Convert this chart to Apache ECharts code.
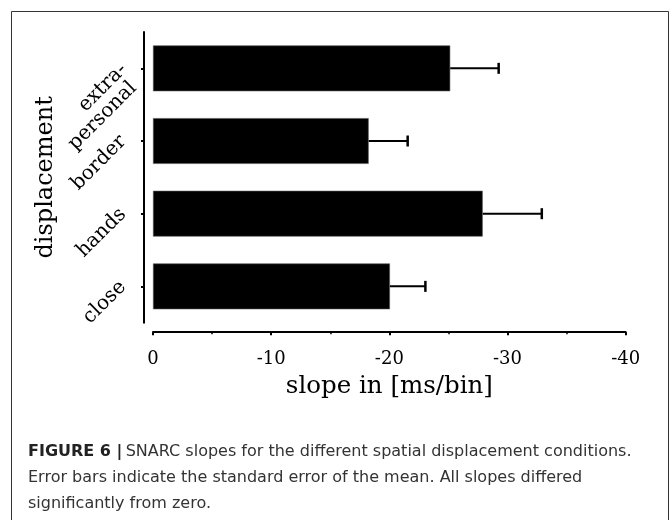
<!DOCTYPE html>
<html>
<head>
<meta charset="utf-8">
<script src="https://cdn.jsdelivr.net/npm/echarts@6/dist/echarts.min.js"></script>
<style>html,body{margin:0;padding:0;background:#fff}#c{width:670px;height:520px}</style>
</head>
<body>
<div id="c"></div>
<script>
// Data (bottom to top)
var categories = ['close', 'hands', 'border', 'extra-\npersonal'];
var slopes = [-20.05, -27.9, -18.25, -25.15];
var sem = [3.0, 5.0, 3.3, 4.1];
var xTicks = [0, -10, -20, -30, -40];
var captionLines = [
  'SNARC slopes for the different spatial displacement conditions.',
  'Error bars indicate the standard error of the mean. All slopes differed',
  'significantly from zero.'
];

var chart = echarts.init(document.getElementById('c'), null, {renderer: 'canvas'});
var serif = 'DejaVu Serif';
var sans = 'DejaVu Sans';

var errData = slopes.map(function (v, i) { return [i, v, v - sem[i]]; });
var catData = categories.map(function (c) {
  return c.indexOf('\n') >= 0 ? {value: c, textStyle: {padding: [15, 0, 0, 0]}} : c;
});

chart.setOption({
  animation: false,
  backgroundColor: '#fff',
  grid: {left: 153, right: 44.3, top: 32, height: 290.7, containLabel: false},
  xAxis: {
    type: 'value', min: -40, max: 0, interval: 10, inverse: true,
    position: 'bottom', offset: 9.5,
    name: 'slope in [ms/bin]', nameLocation: 'middle', nameGap: 42, nameMoveOverlap: false,
    nameTextStyle: {fontFamily: serif, fontSize: 24.5, color: '#000'},
    axisLine: {show: true, onZero: false, lineStyle: {color: '#000', width: 2}},
    axisTick: {show: true, length: 3, lineStyle: {color: '#000', width: 2}},
    minorTick: {show: true, splitNumber: 2, length: 2, lineStyle: {color: '#000', width: 1.5}},
    splitLine: {show: false},
    axisLabel: {fontFamily: serif, fontSize: 18, color: '#000', margin: 18,
      formatter: function (v) { return xTicks.indexOf(v) >= 0 ? String(v) : ''; }}
  },
  yAxis: {
    type: 'category', data: catData, position: 'left', offset: 9,
    name: 'displacement', nameLocation: 'middle', nameGap: 86, nameMoveOverlap: false,
    nameTextStyle: {fontFamily: serif, fontSize: 24, color: '#000'},
    axisLine: {show: true, onZero: false, lineStyle: {color: '#000', width: 2}},
    axisTick: {show: true, alignWithLabel: true, length: 3, lineStyle: {color: '#000', width: 2}},
    axisLabel: {
      fontFamily: serif, fontSize: 20, color: '#000', rotate: 45, margin: 18.5, lineHeight: 20,
      padding: [0, 0, 7, 0],
      formatter: function (v) {
        var parts = v.split('\n');
        if (parts.length < 2) { return '{s|' + v + '}'; }
        return '{a|' + parts[0] + '}\n{b|' + parts[1] + '}';
      },
      rich: {
        s: {fontFamily: serif, fontSize: 20, color: '#000'},
        a: {fontFamily: serif, fontSize: 20, color: '#000', lineHeight: 20},
        b: {fontFamily: serif, fontSize: 20, color: '#000', lineHeight: 20, padding: [0, 6, 0, 0]}
      }
    }
  },
  series: [
    {
      type: 'bar', data: slopes, barCategoryGap: '37%',
      itemStyle: {color: '#000', borderColor: '#555', borderWidth: 0.6},
      z: 2
    },
    {
      type: 'custom', data: errData, z: 3,
      renderItem: function (params, api) {
        var c = api.value(0);
        var p0 = api.coord([api.value(1), c]);
        var p1 = api.coord([api.value(2), c]);
        return {
          type: 'group',
          children: [
            {type: 'line', shape: {x1: p0[0], y1: p0[1], x2: p1[0], y2: p1[1]}, style: {stroke: '#000', lineWidth: 2}},
            {type: 'line', shape: {x1: p1[0], y1: p1[1] - 5.5, x2: p1[0], y2: p1[1] + 5.5}, style: {stroke: '#000', lineWidth: 2.5}}
          ]
        };
      }
    }
  ],
  graphic: [
    {type: 'rect', shape: {x: 11.5, y: 11.5, width: 657, height: 530}, style: {fill: 'none', stroke: '#333', lineWidth: 1}, silent: true},
    {type: 'text', left: 28, top: 439, style: {
      text: '{b|FIGURE 6 |} {r|' + captionLines[0] + '}\n{r|' + captionLines[1] + '}\n{r|' + captionLines[2] + '}',
      lineHeight: 26,
      rich: {
        b: {fontFamily: sans, fontWeight: 'bold', fontSize: 16, fill: '#222', lineHeight: 26},
        r: {fontFamily: sans, fontSize: 16, fill: '#333', lineHeight: 26}
      }
    }}
  ]
});
</script>
</body>
</html>
